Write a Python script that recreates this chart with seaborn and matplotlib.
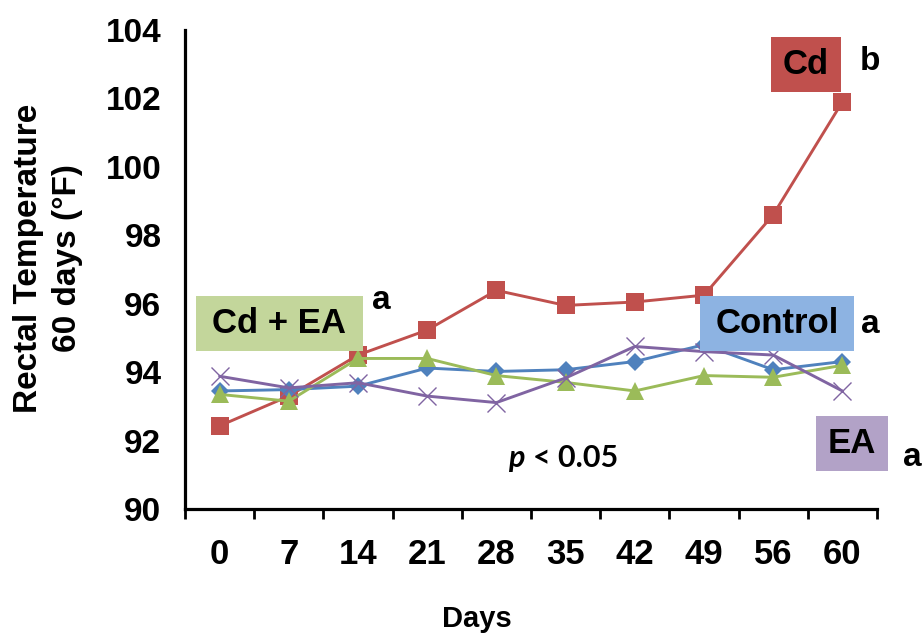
import numpy as np
import pandas as pd
import matplotlib
matplotlib.use("Agg")
import matplotlib.pyplot as plt
from matplotlib.patches import Rectangle
import seaborn as sns

# Data
days = ["0", "7", "14", "21", "28", "35", "42", "49", "56", "60"]
control = [93.45, 93.49, 93.59, 94.12, 94.02, 94.07, 94.31, 94.80, 94.07, 94.31]
cd = [92.43, 93.30, 94.50, 95.23, 96.39, 95.95, 96.05, 96.25, 98.60, 101.90]
cd_ea = [93.35, 93.15, 94.40, 94.40, 93.90, 93.70, 93.45, 93.90, 93.85, 94.20]
ea = [93.88, 93.54, 93.69, 93.30, 93.11, 93.83, 94.75, 94.60, 94.50, 93.45]

groups = ["Cd", "Control", "Cd + EA", "EA"]

df = pd.DataFrame({
    "Days": days * len(groups),
    "Temp": cd + control + cd_ea + ea,
    "Group": np.repeat(groups, len(days)),
})

sns.set_theme(style="white")
plt.rcParams["font.family"] = ["Liberation Sans", "DejaVu Sans"]
plt.rcParams["font.weight"] = "bold"
plt.rcParams["text.color"] = "black"
plt.rcParams["xtick.color"] = "black"
plt.rcParams["ytick.color"] = "black"
plt.rcParams["axes.labelcolor"] = "black"

W, H = 924, 635
fx = lambda x: x / W
fy = lambda y: 1 - y / H

fig = plt.figure(figsize=(W / 100, H / 100), dpi=100)
ax = fig.add_axes([fx(185), fy(509), (877 - 185) / W, (509 - 30) / H])

# line / marker style per group
styles = {
    "Cd": dict(color="#C0504D", marker="s", markersize=13, mew=0),
    "Control": dict(color="#4F81BD", marker="D", markersize=9, mew=0),
    "Cd + EA": dict(color="#9BBB59", marker="^", markersize=13, mew=0),
    "EA": dict(color="#8064A2", marker="x", markersize=13, mew=1.0),
}

for g in groups:
    sub = df[df["Group"] == g]
    st = styles[g]
    sns.lineplot(data=sub, x="Days", y="Temp", ax=ax, color=st["color"],
                 marker=st["marker"], markersize=st["markersize"],
                 markeredgewidth=st["mew"], markeredgecolor=st["color"],
                 linewidth=2.1, sort=False, legend=False)

# axes styling
ax.set_xlim(-0.5, len(days) - 0.5)
ax.set_ylim(90, 104)
ax.set_yticks(np.arange(90, 105, 2))
ax.set_xticks(np.arange(len(days)))
ax.set_xticklabels(days)
ax.set_xticks(np.arange(-0.5, len(days), 1), minor=True)
ax.set_xlabel("")
ax.set_ylabel("")
for s in ["top", "right"]:
    ax.spines[s].set_visible(False)
for s in ["left", "bottom"]:
    ax.spines[s].set_color("black")
    ax.spines[s].set_linewidth(2.3)
ax.tick_params(axis="y", which="major", direction="out", length=6, width=2,
               color="black", labelcolor="black", labelsize=24, pad=11)
ax.tick_params(axis="x", which="major", length=0, labelcolor="black",
               labelsize=25, pad=21)
ax.tick_params(axis="x", which="minor", direction="out", length=7, width=2,
               color="black", bottom=True)
for lab in ax.get_xticklabels() + ax.get_yticklabels():
    lab.set_fontweight("bold")
ax.grid(False)

# axis titles
fig.text(fx(48), fy(258), "Rectal Temperature\n60 days (°F)", rotation=90,
         ha="center", va="center", multialignment="center",
         fontsize=24, fontweight="bold", linespacing=1.3)
fig.text(fx(477), fy(619), "Days", ha="center", va="center",
         fontsize=21, fontweight="bold")

# group label boxes (left, top, right, bottom in pixels)
boxes = [
    ("Cd", (771, 37, 841, 92), "#C0504D", "b", (870, 62)),
    ("Cd + EA", (196, 296, 363, 351), "#C3D69B", "a", (381, 300)),
    ("Control", (700, 296, 854, 351), "#8DB3E2", "a", (870, 324)),
    ("EA", (816, 416, 888, 471), "#B2A2C7", "a", (912, 457)),
]
for name, (l, t, r, b), col, letter, (lx, ly) in boxes:
    fig.patches.append(Rectangle((fx(l), fy(b)), (r - l) / W, (b - t) / H,
                                 transform=fig.transFigure, facecolor=col,
                                 edgecolor="none", zorder=5))
    fig.text(fx((l + r) / 2), fy((t + b) / 2), name, ha="center", va="center",
             fontsize=25, fontweight="bold", zorder=6)
    fig.text(fx(lx), fy(ly), letter, ha="center", va="center",
             fontsize=24, fontweight="bold", zorder=6)

# significance note
fig.text(fx(508), fy(458), "p", ha="left", va="center", fontsize=22,
         fontweight="bold", fontstyle="italic", family=["Lato", "DejaVu Sans"])
fig.text(fx(533), fy(458), "< 0.05", ha="left", va="center", fontsize=22,
         fontweight="bold", family=["Lato", "DejaVu Sans"])

fig.savefig("out.png", dpi=100)
